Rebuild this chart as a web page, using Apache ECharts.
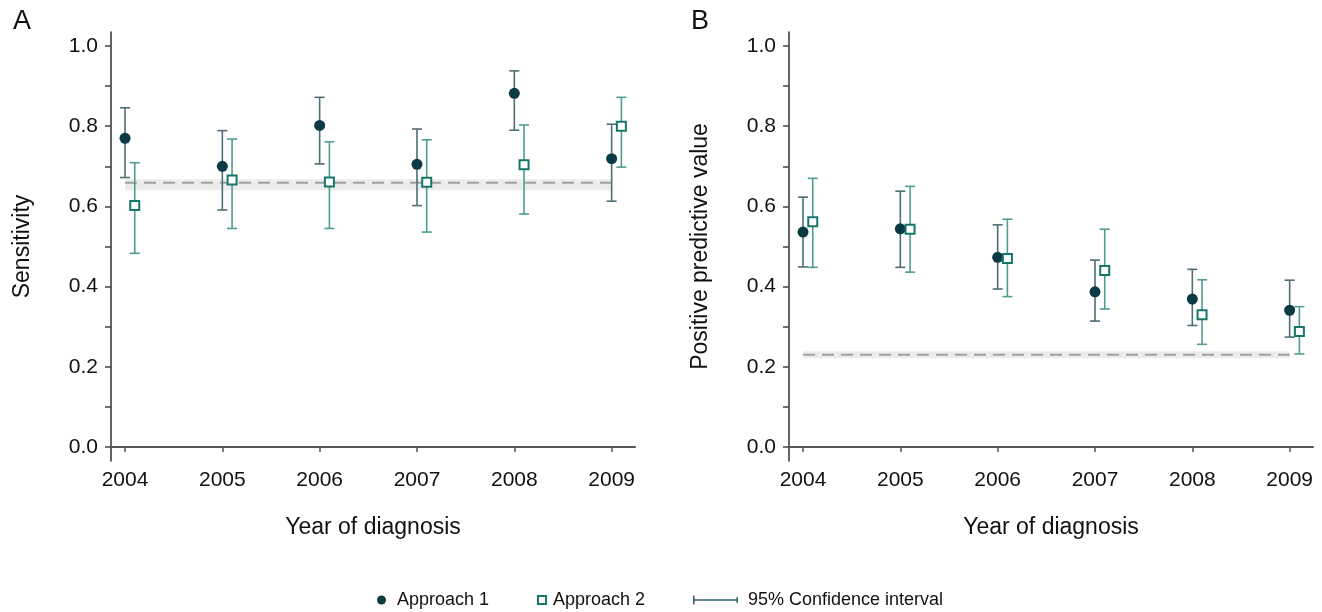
<!DOCTYPE html>
<html><head><meta charset="utf-8">
<script src="https://cdn.jsdelivr.net/npm/echarts@6/dist/echarts.min.js"></script>
<style>html,body{margin:0;padding:0;background:#fff}#c{width:1322px;height:612px}</style>
</head><body><div id="c"></div>
<script>
const years = [2004, 2005, 2006, 2007, 2008, 2009];
const offset2 = 0.1;
// Panel A: Sensitivity
const sensA1   = [0.770, 0.700, 0.802, 0.705, 0.882, 0.719];
const sensA1Lo = [0.672, 0.591, 0.706, 0.602, 0.790, 0.613];
const sensA1Hi = [0.846, 0.789, 0.872, 0.793, 0.938, 0.805];
const sensA2   = [0.602, 0.666, 0.661, 0.660, 0.704, 0.800];
const sensA2Lo = [0.483, 0.545, 0.545, 0.536, 0.581, 0.698];
const sensA2Hi = [0.709, 0.768, 0.761, 0.766, 0.803, 0.872];
const sensRef = [0.659, 0.640, 0.668]; // value, low, high
// Panel B: Positive predictive value
const ppvA1   = [0.536, 0.544, 0.473, 0.387, 0.369, 0.341];
const ppvA1Lo = [0.449, 0.448, 0.394, 0.314, 0.303, 0.274];
const ppvA1Hi = [0.623, 0.638, 0.554, 0.466, 0.443, 0.416];
const ppvA2   = [0.562, 0.543, 0.470, 0.440, 0.330, 0.288];
const ppvA2Lo = [0.448, 0.436, 0.375, 0.344, 0.256, 0.232];
const ppvA2Hi = [0.670, 0.650, 0.568, 0.543, 0.417, 0.350];
const ppvRef = [0.230, 0.221, 0.239];
const yTicks = [0, 0.1, 0.2, 0.3, 0.4, 0.5, 0.6, 0.7, 0.8, 0.9, 1.0];
const yLabels = [0, 0.2, 0.4, 0.6, 0.8, 1.0];

const FONT = '"Liberation Sans", Arial, sans-serif';
const C1 = '#0b3a45', C1ci = '#4e6e75', C2 = '#17766b', C2ci = '#4f9c92';

function ciData(xs, lo, hi, off) { return xs.map((x, i) => [x + off, lo[i], hi[i]]); }
function ptData(xs, v, off) { return xs.map((x, i) => [x + off, v[i]]); }

function ciSeries(idx, data, color) {
  return {
    type: 'custom', name: '95% Confidence interval', xAxisIndex: idx, yAxisIndex: idx, z: 2,
    itemStyle: { color: color },
    renderItem: function (params, api) {
      const lo = api.coord([api.value(0), api.value(1)]);
      const hi = api.coord([api.value(0), api.value(2)]);
      const hw = 5;
      const st = { stroke: color, lineWidth: 1.6 };
      return { type: 'group', children: [
        { type: 'line', shape: { x1: lo[0], y1: lo[1], x2: hi[0], y2: hi[1] }, style: st },
        { type: 'line', shape: { x1: lo[0] - hw, y1: lo[1], x2: lo[0] + hw, y2: lo[1] }, style: st },
        { type: 'line', shape: { x1: hi[0] - hw, y1: hi[1], x2: hi[0] + hw, y2: hi[1] }, style: st }
      ]};
    },
    encode: { x: 0, y: [1, 2] },
    data: data
  };
}

function panelSeries(idx, a1, a1lo, a1hi, a2, a2lo, a2hi, ref) {
  return [
    {
      type: 'line', name: 'ref', xAxisIndex: idx, yAxisIndex: idx, z: 1,
      data: [[years[0], ref[0]], [years[years.length - 1], ref[0]]],
      symbol: 'none', silent: true,
      lineStyle: { color: '#a0a0a0', width: 2, type: [12, 7] },
      markArea: { silent: true, itemStyle: { color: '#ececec' },
        data: [[{ coord: [years[0], ref[1]] }, { coord: [years[years.length - 1], ref[2]] }]] }
    },
    ciSeries(idx, ciData(years, a1lo, a1hi, 0), C1ci),
    ciSeries(idx, ciData(years, a2lo, a2hi, offset2), C2ci),
    { type: 'scatter', name: 'Approach 1', xAxisIndex: idx, yAxisIndex: idx, z: 5,
      symbol: 'circle', symbolSize: 11, itemStyle: { color: C1, opacity: 1 },
      data: ptData(years, a1, 0) },
    { type: 'scatter', name: 'Approach 2', xAxisIndex: idx, yAxisIndex: idx, z: 5,
      symbol: 'rect', symbolSize: 9, itemStyle: { color: '#ffffff', borderColor: C2, borderWidth: 2, opacity: 1 },
      data: ptData(years, a2, offset2) }
  ];
}

function xAxis(idx) {
  return {
    type: 'value', gridIndex: idx, min: 2003.856, max: 2009.24,
    name: 'Year of diagnosis', nameLocation: 'middle', nameGap: 55,
    nameTextStyle: { fontFamily: FONT, fontSize: 23, color: '#111' },
    axisLine: { show: true, lineStyle: { color: '#555', width: 2 } },
    axisTick: { show: true, length: 5, customValues: years, lineStyle: { color: '#555', width: 1.5 } },
    axisLabel: { customValues: years, margin: 9, fontFamily: FONT, fontSize: 21, color: '#111',
      formatter: v => String(Math.round(v)) },
    splitLine: { show: false }
  };
}
function yAxis(idx, name) {
  return {
    type: 'value', gridIndex: idx, min: -0.035, max: 1.035,
    name: name, nameLocation: 'middle', nameGap: 77,
    nameTextStyle: { fontFamily: FONT, fontSize: 23, color: '#111' },
    axisLine: { show: true, lineStyle: { color: '#333', width: 1.5 } },
    axisTick: { show: true, length: 6, customValues: yTicks, lineStyle: { color: '#444', width: 1.5 } },
    axisLabel: { customValues: yLabels, margin: 13, fontFamily: FONT, fontSize: 21, color: '#111',
      formatter: v => v.toFixed(1) },
    splitLine: { show: false }
  };
}

const legendText = pad => ({ fontFamily: FONT, fontSize: 18, color: '#111', padding: [0, 0, 0, pad] });

const chart = echarts.init(document.getElementById('c'), null, { renderer: 'canvas' });
chart.setOption({
  animation: false,
  backgroundColor: '#fff',
  title: [
    { text: 'A', left: 8, top: 3, textStyle: { fontFamily: FONT, fontSize: 27, fontWeight: 'normal', color: '#111' } },
    { text: 'B', left: 686, top: 3, textStyle: { fontFamily: FONT, fontSize: 27, fontWeight: 'normal', color: '#111' } }
  ],
  grid: [
    { left: 111, width: 524, top: 32, height: 429 },
    { left: 789, width: 524, top: 32, height: 429 }
  ],
  xAxis: [xAxis(0), xAxis(1)],
  yAxis: [yAxis(0, 'Sensitivity'), yAxis(1, 'Positive predictive value')],
  legend: [
    { data: ['Approach 1'], left: 372, top: 586, icon: 'circle', itemWidth: 9, itemHeight: 9,
      textStyle: legendText(6), selectedMode: false },
    { data: ['Approach 2'], left: 532, top: 586, icon: 'rect', itemWidth: 8, itemHeight: 8,
      textStyle: legendText(2), selectedMode: false },
    { data: [{ name: '95% Confidence interval', itemStyle: { color: '#2a5d65' } }], left: 688, top: 586,
      icon: 'path://M0,0h1.5v9h-1.5z M0,3.8h45v1.4h-45z M43.5,1.5h1.5v6h-1.5z', itemWidth: 45, itemHeight: 9,
      textStyle: legendText(5), selectedMode: false }
  ],
  series: [].concat(
    panelSeries(0, sensA1, sensA1Lo, sensA1Hi, sensA2, sensA2Lo, sensA2Hi, sensRef),
    panelSeries(1, ppvA1, ppvA1Lo, ppvA1Hi, ppvA2, ppvA2Lo, ppvA2Hi, ppvRef)
  )
});
</script></body></html>
